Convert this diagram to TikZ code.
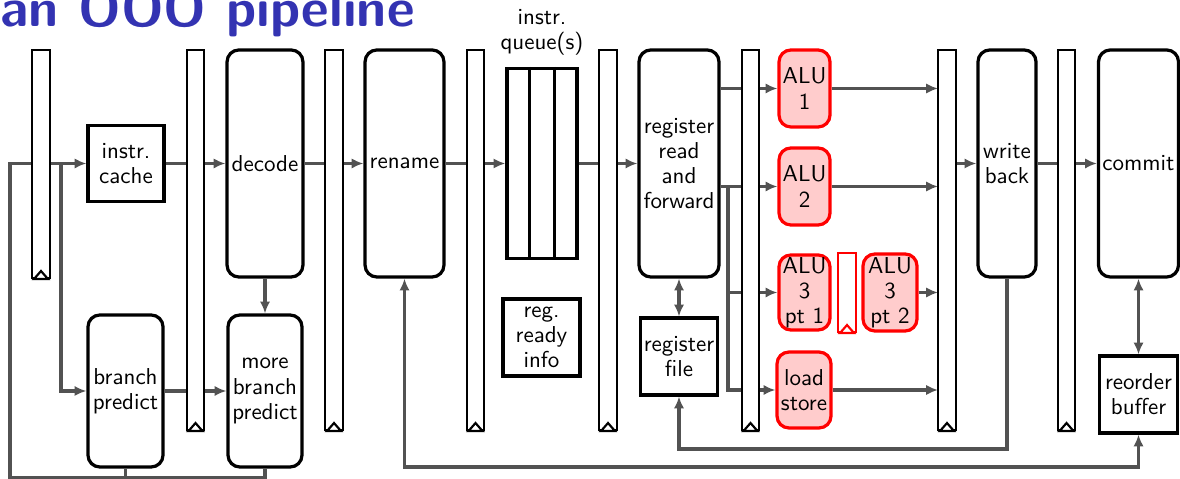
\documentclass[tikz,border=0pt]{standalone}
\usetikzlibrary{arrows.meta,positioning,calc}
\definecolor{titleblue}{rgb}{0.2,0.2,0.7}
\definecolor{wiregray}{gray}{0.32}
\begin{document}
\begin{tikzpicture}[x=0.4651pt,y=0.4651pt,
	font=\sffamily\fontsize{10.7}{11.7}\selectfont,
	>={Latex[length=5.5pt,width=4.8pt]},
	stage/.style={draw,line width=1.5pt,rounded corners=5.5pt,align=center,inner sep=0.5pt},
	unit/.style={draw,line width=1.5pt,align=center,inner sep=0.5pt},
	alu/.style={stage,draw=red,fill=red!20},
	latch/.style={draw,line width=1pt,fill=white,inner sep=0pt,minimum width=8.2pt,minimum height=176.7pt},
	wire/.style={draw=wiregray,line width=1.5pt}]
	\clip (0,0) rectangle (1180,479);
	% title
	\node[font=\sffamily\bfseries\fontsize{25}{30}\selectfont,text=titleblue,anchor=base east,inner sep=0pt] (title) at (415,452) {an OOO pipeline};
	% stages
	\node[unit,minimum width=35.3pt,minimum height=35.3pt] (cache) at (126,315.5) {instr.\\cache};
	\node[stage,minimum width=34.9pt,minimum height=70.7pt] (bp) at (125.5,88) {branch\\predict};
	\node[stage,minimum width=35.3pt,minimum height=105.6pt] (decode) at (265,315.5) {decode};
	\node[stage,minimum width=34.4pt,minimum height=70.7pt] (mbp) at (265,88) {more\\branch\\predict};
	\node[stage,minimum width=36.7pt,minimum height=105.6pt] (rename) at (404.5,315.5) {rename};
	\node[draw,line width=1.5pt,minimum width=32.6pt,minimum height=88.4pt] (queue) at (542,315.5) {};
	\node[above=4pt of queue,align=center,inner sep=1pt] (qlabel) {instr.\\queue(s)};
	\node[unit,minimum width=35.8pt,minimum height=35.8pt] (ready) at (541.5,141.5) {reg.\\ready\\info};
	\node[stage,minimum width=37.2pt,minimum height=105.6pt] (regread) at (679,315.5) {register\\read\\and\\forward};
	\node[unit,minimum width=35.8pt,minimum height=35.8pt] (regfile) at (679,122.5) {register\\file};
	\node[alu,minimum width=23.7pt,minimum height=35.8pt] (alu1) at (804.5,390.5) {ALU\\1};
	\node[alu,minimum width=23.7pt,minimum height=35.8pt] (alu2) at (804.5,292.5) {ALU\\2};
	\node[alu,minimum width=23.7pt,minimum height=34.9pt] (alu3a) at (804.5,186.5) {ALU\\3\\pt 1};
	\node[alu,minimum width=25.1pt,minimum height=35.8pt] (alu3b) at (890,186.5) {ALU\\3\\pt 2};
	\node[alu,minimum width=25.1pt,minimum height=35.3pt] (ls) at (804,89) {load\\store};
	\node[stage,minimum width=27pt,minimum height=105.6pt] (wb) at (1007,315.5) {write\\back};
	\node[stage,minimum width=37.2pt,minimum height=105.6pt] (commit) at (1138.5,315.5) {commit};
	\node[unit,minimum width=36.3pt,minimum height=35.8pt] (rob) at (1138.5,84.5) {reorder\\buffer};
	\draw[line width=1.5pt] ($(queue.north west)!1/3!(queue.north east)$) -- ($(queue.south west)!1/3!(queue.south east)$);
	\draw[line width=1.5pt] ($(queue.north west)!2/3!(queue.north east)$) -- ($(queue.south west)!2/3!(queue.south east)$);
	% wires
	\coordinate (fbl) at (10,1.5);
	\coordinate (rail1) at (0,30);
	\coordinate (rail2) at (0,12);
	\coordinate (split1) at (61,315.5);
	\coordinate (split2) at (728,292.5);
	\draw[wire,->] (mbp.south) -- (mbp.south |- fbl) -- (fbl) |- (41,315.5) -- (32,315.5);
	\draw[wire] (bp.south) -- (bp.south |- fbl);
	\draw[wire,->] (split1 -| 50,0) -- (cache);
	\draw[wire,->] (split1) |- (bp);
	\draw[wire,->] (cache) -- (decode);
	\draw[wire,->] (bp) -- (mbp);
	\draw[wire,->] (decode) -- (mbp);
	\draw[wire,->] (decode) -- (rename);
	\draw[wire,->] (rename) -- (queue);
	\draw[wire,->] (queue) -- (regread);
	\draw[wire,<->] (regread) -- (regfile);
	\draw[wire,->] (regread.east |- alu1) -- (alu1);
	\draw[wire,->] (regread.east |- alu2) -- (alu2);
	\draw[wire,->] (split2) |- (alu3a);
	\draw[wire,->] (split2) |- (ls);
	\draw[wire,->] (alu1) -- (938,390.5);
	\draw[wire,->] (alu2) -- (938,292.5);
	\draw[wire,->] (alu3b) -- (938,186.5);
	\draw[wire,->] (ls) -- (938,89);
	\draw[wire,->] (956,315.5) -- (wb);
	\draw[wire,->] (wb) -- (commit);
	\draw[wire,<->] (commit) -- (rob);
	\draw[wire,->] (wb.south) -- (wb.south |- rail1) -| (regfile.south);
	\draw[wire,<->] (rename.south) -- (rename.south |- rail2) -| (rob.south);
	% pipeline registers
	\node[latch,minimum height=106pt] (r1) at (41,315) {};
	\node[latch] (r2) at (195.5,239) {};
	\node[latch] (r3) at (334,239) {};
	\node[latch] (r4) at (475.5,239) {};
	\node[latch] (r5) at (608,239) {};
	\node[latch] (r6) at (750.5,239) {};
	\node[latch] (r7) at (947,239) {};
	\node[latch] (r8) at (1066.5,239) {};
	\node[latch,draw=red,minimum height=36.7pt] (r9) at (847,186.5) {};
	\foreach \r in {r1,r2,r3,r4,r5,r6,r7,r8}
		\draw[line width=1pt,fill=white,line join=miter] ($(\r.south)+(-7,0)$) -- ++(7,8) -- ++(7,-8) -- cycle;
	\draw[line width=1pt,draw=red,fill=white] ($(r9.south)+(-7,0)$) -- ++(7,8) -- ++(7,-8) -- cycle;
\end{tikzpicture}
\end{document}
